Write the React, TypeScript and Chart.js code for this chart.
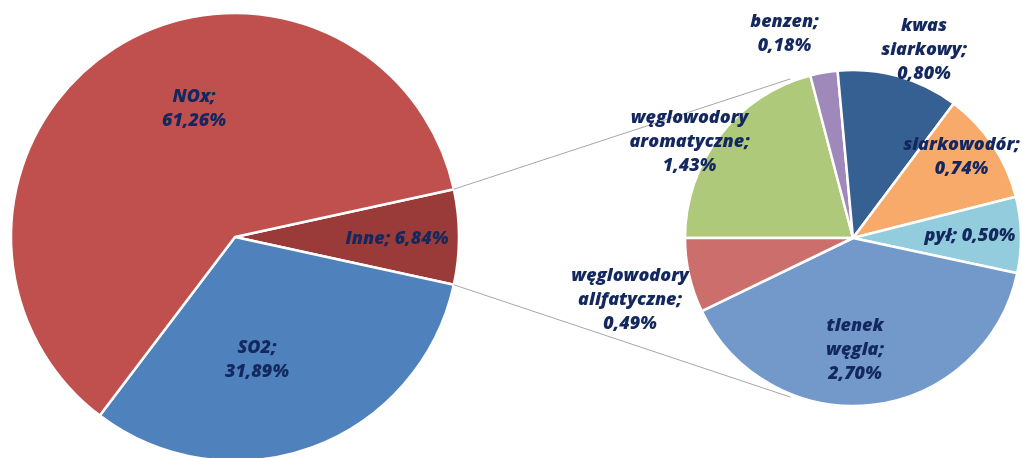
import React, { useEffect, useRef } from 'react';
import { Chart, registerables } from 'chart.js';

Chart.register(...registerables);

// ---- data ----
const mainLabels = ['Inne', 'SO2', 'NOx'];
const mainValues = [6.84, 31.89, 61.26];
const mainColors = ['#9B3B39', '#4F81BD', '#C0504D'];

const subLabels = [
  'węglowodory aromatyczne',
  'benzen',
  'kwas siarkowy',
  'siarkowodór',
  'pył',
  'tlenek węgla',
  'węglowodory alifatyczne',
];
const subValues = [1.43, 0.18, 0.8, 0.74, 0.5, 2.7, 0.49];
const subColors = ['#AEC97A', '#9F89BB', '#376092', '#F8AA6A', '#93CDDD', '#7399CB', '#CC6F6C'];

// ---- layout / style ----
const W = 1022;
const H = 470;
const FONT = 'italic 800 18px "Open Sans"';
const TEXT = '#13285E';
const LINE_H = 24;
const inlineLabels = ['Inne', 'pył'];
// label centres relative to pie centre, in units of radius
const mainLabelPos = [
  [0.723, 0.009],
  [0.098, 0.549],
  [-0.183, -0.571],
];
const subLabelPos = [
  [-0.973, -0.571],
  [-0.408, -1.214],
  [0.423, -1.119],
  [0.646, -0.482],
  [0.696, -0.012],
  [0.012, 0.667],
  [-1.327, 0.369],
];
const CONNECT_ANGLE = (111.5 * Math.PI) / 180;

function fmt(v: number) {
  return v.toFixed(2).replace('.', ',') + '%';
}
function labelLines(name: string, v: number): string[] {
  if (inlineLabels.includes(name)) return [`${name}; ${fmt(v)}`];
  const words = name.split(' ');
  words[words.length - 1] += ';';
  return [...words, fmt(v)];
}

function labelPlugin(id: string, names: string[], values: number[], pos: number[][]) {
  return {
    id,
    afterDatasetsDraw(chart: any) {
      const ctx = chart.ctx;
      const meta = chart.getDatasetMeta(0);
      ctx.save();
      ctx.font = FONT;
      ctx.fillStyle = TEXT;
      ctx.textAlign = 'center';
      ctx.textBaseline = 'middle';
      meta.data.forEach((arc: any, i: number) => {
        const p = arc.getProps(['x', 'y', 'outerRadius'], true);
        const cx = p.x + pos[i][0] * p.outerRadius;
        const cy = p.y + pos[i][1] * p.outerRadius;
        const ls = labelLines(names[i], values[i]);
        const y0 = cy - ((ls.length - 1) * LINE_H) / 2;
        ls.forEach((t, k) => ctx.fillText(t, cx, y0 + k * LINE_H));
      });
      ctx.restore();
    },
  };
}

export default function App() {
  const mainRef = useRef<HTMLCanvasElement>(null);
  const subRef = useRef<HTMLCanvasElement>(null);

  useEffect(() => {
    const total = mainValues.reduce((a, b) => a + b, 0);
    const mainChart = new Chart(mainRef.current as HTMLCanvasElement, {
      type: 'pie',
      data: {
        labels: mainLabels,
        datasets: [
          {
            data: mainValues,
            backgroundColor: mainColors,
            borderColor: '#FFFFFF',
            borderWidth: 2.5,
          },
        ],
      },
      options: {
        responsive: false,
        animation: false,
        devicePixelRatio: 1,
        rotation: 90 - (mainValues[0] / total) * 180,
        radius: 224,
        layout: { padding: { left: 11, top: 13, right: W - 459, bottom: H - 461 } },
        plugins: { legend: { display: false }, tooltip: { enabled: false } },
        events: [],
      },
      plugins: [labelPlugin('mainLabels', mainLabels, mainValues, mainLabelPos)],
    } as any);

    const connector = {
      id: 'connector',
      beforeDatasetsDraw(chart: any) {
        const arc: any = mainChart.getDatasetMeta(0).data[0];
        const a = arc.getProps(['x', 'y', 'outerRadius', 'startAngle', 'endAngle'], true);
        const s: any = chart.getDatasetMeta(0).data[0];
        const b = s.getProps(['x', 'y', 'outerRadius'], true);
        const r2 = b.outerRadius + 3;
        const ctx = chart.ctx;
        ctx.save();
        ctx.strokeStyle = '#A6A6A6';
        ctx.lineWidth = 1;
        ctx.beginPath();
        ctx.moveTo(a.x + a.outerRadius * Math.cos(a.startAngle), a.y + a.outerRadius * Math.sin(a.startAngle));
        ctx.lineTo(b.x + r2 * Math.cos(-CONNECT_ANGLE), b.y + r2 * Math.sin(-CONNECT_ANGLE));
        ctx.moveTo(a.x + a.outerRadius * Math.cos(a.endAngle), a.y + a.outerRadius * Math.sin(a.endAngle));
        ctx.lineTo(b.x + r2 * Math.cos(CONNECT_ANGLE), b.y + r2 * Math.sin(CONNECT_ANGLE));
        ctx.stroke();
        ctx.restore();
      },
    };

    const subChart = new Chart(subRef.current as HTMLCanvasElement, {
      type: 'pie',
      data: {
        labels: subLabels,
        datasets: [
          {
            data: subValues,
            backgroundColor: subColors,
            borderColor: '#FFFFFF',
            borderWidth: 2.5,
          },
        ],
      },
      options: {
        responsive: false,
        animation: false,
        devicePixelRatio: 1,
        rotation: 270,
        radius: 168,
        layout: { padding: { left: 685, top: 70, right: W - 1021, bottom: H - 406 } },
        plugins: { legend: { display: false }, tooltip: { enabled: false } },
        events: [],
      },
      plugins: [connector, labelPlugin('subLabels', subLabels, subValues, subLabelPos)],
    } as any);

    return () => {
      subChart.destroy();
      mainChart.destroy();
    };
  }, []);

  const cs: React.CSSProperties = { position: 'absolute', left: 0, top: 0, width: W, height: H };
  return (
    <div style={{ position: 'fixed', left: 0, top: 0, width: W, height: 458, overflow: 'hidden', background: '#FFFFFF' }}>
      <canvas ref={mainRef} width={W} height={H} style={cs} />
      <canvas ref={subRef} width={W} height={H} style={cs} />
    </div>
  );
}
